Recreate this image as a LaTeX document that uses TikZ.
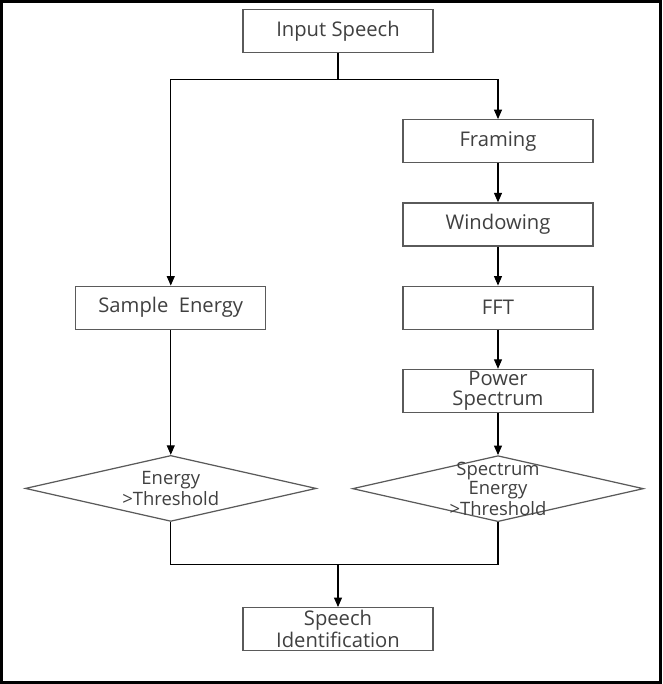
\documentclass[tikz,border=0pt]{standalone}
\usepackage{fontspec}
\setmainfont{Open Sans}
\usetikzlibrary{shapes.geometric, arrows.meta, positioning, calc}
\definecolor{boxgray}{HTML}{5A5A5A}
\definecolor{txtgray}{HTML}{404040}
\tikzset{
    box/.style={draw=boxgray, line width=0.7pt, fill=white, align=center, text=txtgray, minimum width=3.8cm, minimum height=0.86cm, inner sep=1pt, font=\fontsize{11.5}{11.5}\selectfont},
    decision/.style={diamond, draw=boxgray, line width=0.7pt, fill=white, minimum width=5.82cm, minimum height=1.32cm, inner sep=0pt},
    dlabel/.style={align=center, text=txtgray, inner sep=0pt, font=\fontsize{10.5}{9.4}\selectfont},
    line/.style={black, line width=0.6pt},
    arrow/.style={-{Triangle[length=1.9mm, width=1.6mm]}, black, line width=0.6pt}
}
\begin{document}
\begin{tikzpicture}
    \useasboundingbox (0,0) rectangle (13.24,-13.68);
    \draw[black, line width=1.8pt] (0.03,-0.03) rectangle (13.21,-13.65);
        \node [box] (input) at (6.76,-0.62) {Input Speech};
        \node [box, below=1.32cm of input, xshift=3.2cm] (framing) {Framing};
        \node [box, below=0.78cm of framing] (windowing) {Windowing};
        \node [box, below=0.78cm of windowing] (fft) {FFT};
        \node [box, below=0.78cm of fft] (power) {Power\\Spectrum};
        \node [decision, below=0.84cm of power, label={[dlabel]center:{Spectrum\\Energy\\>Threshold}}] (spec) {};
        \node [box, left=2.72cm of fft] (sample) {Sample~~Energy};
        \node [decision, below=2.5cm of sample, label={[dlabel]center:{Energy\\>Threshold}}] (energy) {};
        \coordinate (join) at ($(input |- energy.south)+(0,-0.84)$);
        \node [box, below=0.86cm of join] (ident) {Speech\\Identification};
        \draw [line] (input.south) -- ++(0,-0.52) coordinate (split);
        \draw [arrow] (split) -| (framing.north);
        \draw [arrow] (split) -| (sample.north);
        \draw [arrow] (framing) -- (windowing);
        \draw [arrow] (windowing) -- (fft);
        \draw [arrow] (fft) -- (power);
        \draw [arrow] (power) -- (spec);
        \draw [arrow] (sample) -- (energy);
        \draw [line] (energy.south) |- (join) -| (spec.south);
        \draw [arrow] (join) -- (ident);
    \end{tikzpicture}
\end{document}
